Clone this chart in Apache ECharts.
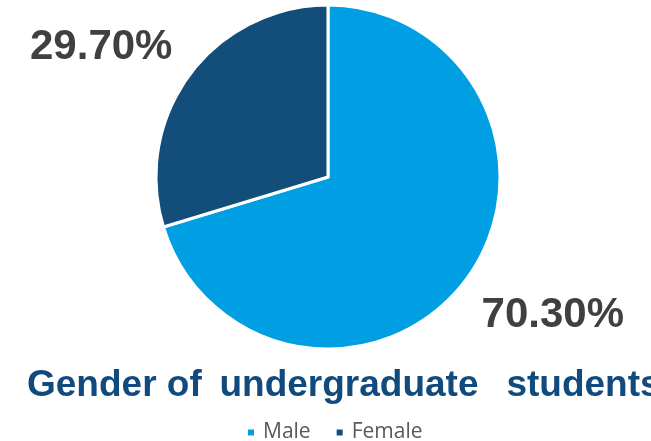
<!DOCTYPE html>
<html>
<head>
<meta charset="utf-8">
<script src="https://cdn.jsdelivr.net/npm/echarts@6/dist/echarts.min.js"></script>
<style>html,body{margin:0;padding:0;background:#fff}#c{width:651px;height:441px}</style>
</head>
<body>
<div id="c"></div>
<script>
const categories = ['Male', 'Female'];
const values = [70.30, 29.70];
const colors = ['#009FE3', '#134E7B'];
const titleText = 'Gender of \u2009undergraduate  \u2009students';

const chart = echarts.init(document.getElementById('c'), null, {renderer: 'canvas'});
chart.setOption({
  animation: false,
  backgroundColor: '#ffffff',
  color: colors,
  title: {
    text: titleText,
    left: 22,
    top: 362,
    textStyle: {fontFamily: 'Liberation Sans', fontWeight: 'bold', fontSize: 37, color: '#114B7D'}
  },
  legend: {
    data: categories,
    left: 246,
    top: 422,
    padding: 0,
    icon: 'rect',
    itemWidth: 8,
    itemHeight: 8,
    itemGap: 24,
    textStyle: {fontFamily: 'Open Sans', fontSize: 21, color: '#595959', padding: [0, 0, 0, 3]}
  },
  series: [{
    type: 'pie',
    center: [328, 177],
    radius: 172,
    startAngle: 90,
    clockwise: true,
    itemStyle: {borderColor: '#ffffff', borderWidth: 3},
    label: {
      show: true,
      position: 'outside',
      overflow: 'none',
      formatter: p => p.value.toFixed(2) + '%',
      fontFamily: 'Liberation Sans',
      fontWeight: 'bold',
      fontSize: 42,
      color: '#404040'
    },
    labelLine: {show: false},
    labelLayout: function (params) {
      if (params.dataIndex === 1) {
        return {x: 30, y: 47, align: 'left', verticalAlign: 'middle'};
      }
      return {x: 624, y: 315, align: 'right', verticalAlign: 'middle'};
    },
    data: categories.map((c, i) => ({name: c, value: values[i]}))
  }]
});
</script>
</body>
</html>
